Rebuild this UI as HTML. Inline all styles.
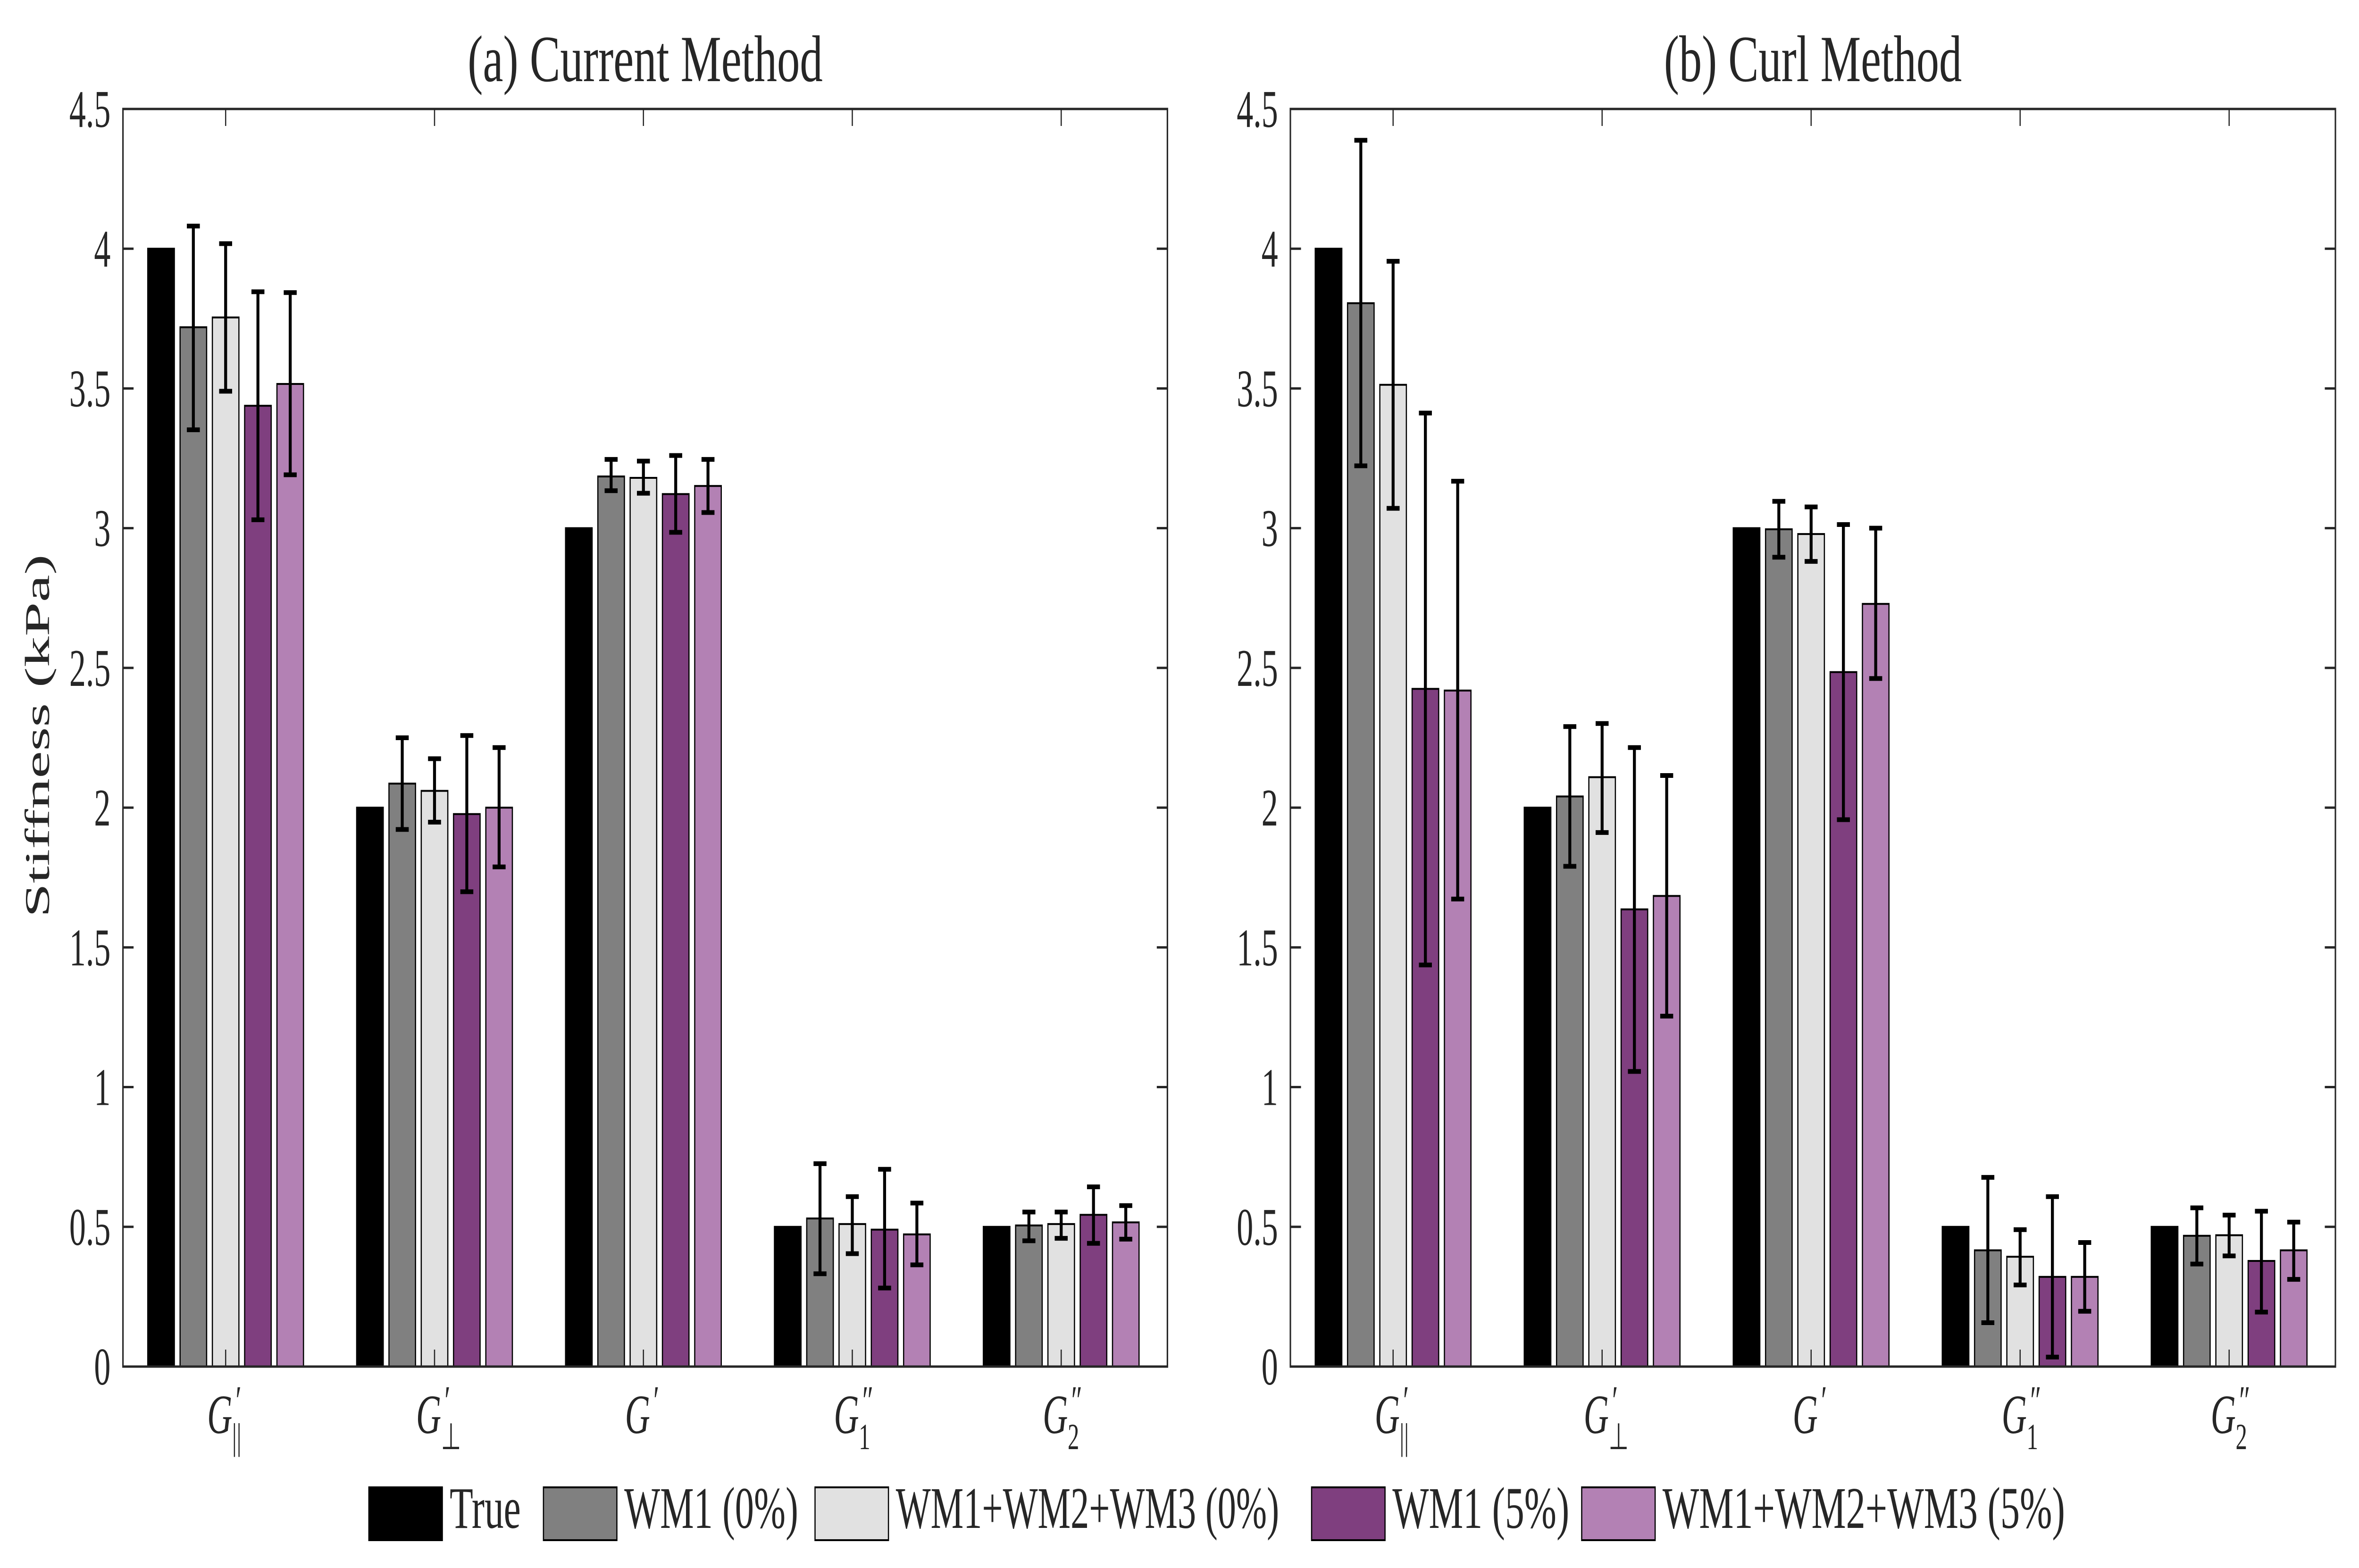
<!DOCTYPE html>
<html><head><meta charset="utf-8"><style>
html,body{margin:0;padding:0;background:#fff;overflow:hidden;width:100%;height:100%;}
svg{display:block;width:100vw;height:100vh;}
text{font-family:"Liberation Serif",serif;fill:#262626;}
</style></head>
<body>
<svg id="chart" viewBox="0 0 8000 3324" preserveAspectRatio="none" xmlns="http://www.w3.org/2000/svg">
<rect x="0" y="0" width="8000" height="3324" fill="#fff"/>
<g id="plots"></g>
<text x="2188" y="172" font-size="140" text-anchor="middle" textLength="1204" lengthAdjust="spacingAndGlyphs">(a) Current Method</text>
<text x="6148" y="172" font-size="140" text-anchor="middle" textLength="1010" lengthAdjust="spacingAndGlyphs">(b) Curl Method</text>
<text x="0" y="0" font-size="118" text-anchor="middle" transform="translate(166,1560) rotate(-90)" textLength="770" lengthAdjust="spacingAndGlyphs">Stiffness (kPa)</text>
<g id="legend"></g>
</svg>
<script>
const categories = ["G||", "G⊥", "G'", "G1''", "G2''"];
const seriesNames = ["True", "WM1 (0%)", "WM1+WM2+WM3 (0%)", "WM1 (5%)", "WM1+WM2+WM3 (5%)"];
const yTicks = [0, 0.5, 1, 1.5, 2, 2.5, 3, 3.5, 4, 4.5];
const yTickLabels = ["0", "0.5", "1", "1.5", "2", "2.5", "3", "3.5", "4", "4.5"];

// Panel (a) Current Method
const aTrue  = [4, 2, 3, 0.5, 0.5];
const aWM1_0 = [3.719, 2.086, 3.185, 0.530, 0.505];
const aAll_0 = [3.754, 2.060, 3.180, 0.510, 0.510];
const aWM1_5 = [3.438, 1.977, 3.122, 0.490, 0.543];
const aAll_5 = [3.516, 2.000, 3.151, 0.473, 0.516];
const aWM1_0Hi = [4.081, 2.250, 3.246, 0.726, 0.553];
const aWM1_0Lo = [3.352, 1.922, 3.134, 0.332, 0.450];
const aAll_0Hi = [4.018, 2.175, 3.240, 0.608, 0.553];
const aAll_0Lo = [3.490, 1.948, 3.125, 0.404, 0.459];
const aWM1_5Hi = [3.846, 2.258, 3.260, 0.706, 0.643];
const aWM1_5Lo = [3.030, 1.699, 2.985, 0.281, 0.441];
const aAll_5Hi = [3.843, 2.215, 3.246, 0.585, 0.576];
const aAll_5Lo = [3.191, 1.788, 3.056, 0.364, 0.456];

// Panel (b) Curl Method
const bTrue  = [4, 2, 3, 0.5, 0.5];
const bWM1_0 = [3.805, 2.040, 2.996, 0.416, 0.468];
const bAll_0 = [3.513, 2.109, 2.979, 0.393, 0.470];
const bWM1_5 = [2.425, 1.636, 2.485, 0.321, 0.378];
const bAll_5 = [2.419, 1.684, 2.729, 0.321, 0.416];
const bWM1_0Hi = [4.388, 2.290, 3.096, 0.677, 0.568];
const bWM1_0Lo = [3.223, 1.790, 2.896, 0.157, 0.367];
const bAll_0Hi = [3.955, 2.301, 3.076, 0.490, 0.542];
const bAll_0Lo = [3.071, 1.911, 2.881, 0.292, 0.396];
const bWM1_5Hi = [3.412, 2.215, 3.013, 0.608, 0.556];
const bWM1_5Lo = [1.437, 1.056, 1.957, 0.034, 0.195];
const bAll_5Hi = [3.168, 2.115, 3.000, 0.444, 0.517];
const bAll_5Lo = [1.673, 1.254, 2.462, 0.198, 0.312];

const colors = ["#000000", "#808080", "#e1e1e1", "#7f3f7f", "#b381b4"];
const NS = "http://www.w3.org/2000/svg";
function mk(tag, attrs, parent) {
  const e = document.createElementNS(NS, tag);
  for (const k in attrs) e.setAttribute(k, attrs[k]);
  parent.appendChild(e);
  return e;
}
const Y0 = 2897, Y45 = 231;
function yScale(v) { return Y0 - (v / 4.5) * (Y0 - Y45); }

function drawPanel(left, right, vals, his, los, pname) {
  const g = mk("g", {}, document.getElementById("plots"));
  
  
  const w = right - left;
  const unit = w / 5;
  function xScale(i) { return left + (i + 0.5) * unit - 6; }
  const step = 109.5, bw = 90;
  for (let s = 0; s < 5; s++) {
    for (let i = 0; i < categories.length; i++) {
      const cx = xScale(i) + (s - 2) * step;
      const yt = yScale(vals[s][i]);
      const r = mk("rect", {x: cx - bw / 2, y: yt, width: bw, height: Y0 - yt, fill: colors[s], stroke: "#000", "stroke-width": 4}, g);
      
      
    }
  }
  for (let s = 1; s < 5; s++) {
    for (let i = 0; i < categories.length; i++) {
      const cx = xScale(i) + (s - 2) * step;
      const yh = yScale(his[s][i]), yl = yScale(los[s][i]);
      const e = mk("g", {stroke: "#000", "stroke-width": 10, fill: "none"}, g);
      
      
      mk("line", {x1: cx, y1: yh, x2: cx, y2: yl}, e);
      mk("line", {x1: cx - 22, y1: yh, x2: cx + 22, y2: yh}, e);
      mk("line", {x1: cx - 22, y1: yl, x2: cx + 22, y2: yl}, e);
    }
  }
  const box = mk("rect", {x: left, y: Y45, width: w, height: Y0 - Y45, fill: "none", stroke: "#262626", "stroke-width": 5}, g);
  
  
  for (let t = 0; t < yTicks.length; t++) {
    const y = yScale(yTicks[t]);
    mk("line", {x1: left, y1: y, x2: left + 36, y2: y, stroke: "#262626", "stroke-width": 5}, g);
    mk("line", {x1: right, y1: y, x2: right - 36, y2: y, stroke: "#262626", "stroke-width": 5}, g);
    const lab = mk("text", {x: left - 42, y: y + 38, "font-size": 112, "text-anchor": "end"}, g);
    lab.textContent = yTickLabels[t];
    
    
  }
  const subs = ["||", "⊥", "", "1", "2"];
  const primes = ["′", "′", "′", "″", "″"];
  for (let i = 0; i < categories.length; i++) {
    const cx = xScale(i);
    mk("line", {x1: cx, y1: Y0, x2: cx, y2: Y0 - 36, stroke: "#262626", "stroke-width": 4}, g);
    mk("line", {x1: cx, y1: Y45, x2: cx, y2: Y45 + 36, stroke: "#262626", "stroke-width": 4}, g);
    const lg = mk("g", {}, g);
    
    
    const gt = mk("text", {x: cx - 20, y: 3038, "font-size": 118, "font-style": "italic", "text-anchor": "middle"}, lg);
    gt.textContent = "G";
    const pt = mk("text", {x: cx + 34, y: 3000, "font-size": 90}, lg);
    pt.textContent = primes[i];
    if (subs[i]) {
      const st = mk("text", {x: cx + 22, y: 3072, "font-size": 78}, lg);
      st.textContent = subs[i];
    }
  }
}

drawPanel(417, 3959, [aTrue, aWM1_0, aAll_0, aWM1_5, aAll_5],
  [aTrue, aWM1_0Hi, aAll_0Hi, aWM1_5Hi, aAll_5Hi],
  [aTrue, aWM1_0Lo, aAll_0Lo, aWM1_5Lo, aAll_5Lo], 'current-method');
drawPanel(4376, 7920, [bTrue, bWM1_0, bAll_0, bWM1_5, bAll_5],
  [bTrue, bWM1_0Hi, bAll_0Hi, bWM1_5Hi, bAll_5Hi],
  [bTrue, bWM1_0Lo, bAll_0Lo, bWM1_5Lo, bAll_5Lo], 'curl-method');

const legX = [1251, 1843, 2764, 4448, 5364];
const legTextW = [241, 590, 1300, 600, 1365];
const leg = document.getElementById("legend");
for (let s = 0; s < 5; s++) {
  const eg = mk("g", {}, leg);
  
  
  mk("rect", {x: legX[s], y: 3153, width: 249, height: 112, fill: colors[s], stroke: "#000", "stroke-width": 4}, eg);
  const t = mk("text", {x: legX[s] + 274, y: 3239, "font-size": 125, textLength: legTextW[s], lengthAdjust: "spacingAndGlyphs"}, eg);
  t.textContent = seriesNames[s];
}
</script>
</body></html>
